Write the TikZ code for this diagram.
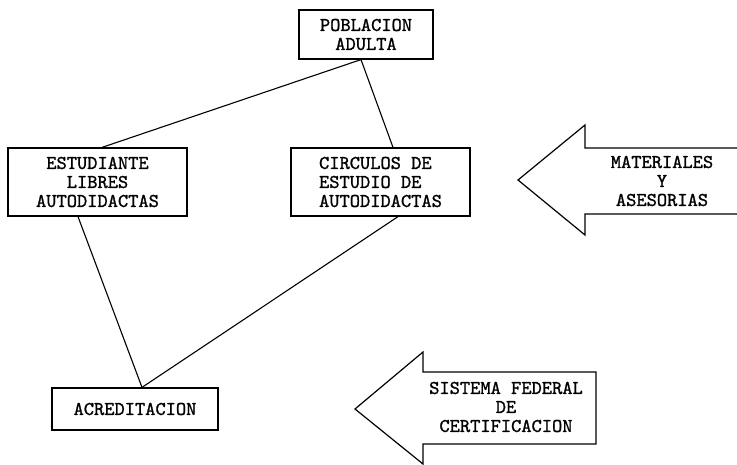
\documentclass[tikz,border=0pt]{standalone}
\usepackage{fontspec}
\setmonofont{lmmono10-regular}[Extension=.otf, AutoFakeBold=1.2]
\usetikzlibrary{positioning,calc}

\begin{document}
\begin{tikzpicture}[x=1pt,y=-1pt,
    texto/.style={align=center, inner sep=0pt, font=\ttfamily\bfseries\fontsize{19.5}{19}\selectfont},
    caja/.style={texto, draw, line width=1.2pt},
    linea/.style={line width=1.1pt},
    flecha/.style={line width=1.2pt, line join=miter}]
    \useasboundingbox (0,0) rectangle (737,465);

    % Cajas
    \node[caja, minimum width=134pt, minimum height=49pt] (pob) at (366,34.5) {POBLACION\\ADULTA};
    \node[caja, minimum width=179pt, minimum height=68pt] (est) at (97.5,182) {ESTUDIANTE\\LIBRES\\AUTODIDACTAS};
    \node[caja, align=left, minimum width=179pt, minimum height=68pt] (cir) at (380.5,182) {CIRCULOS DE\\ESTUDIO DE\\AUTODIDACTAS};
    \node[caja, minimum width=166pt, minimum height=42pt] (acr) at (135,409) {ACREDITACION};

    % Lineas
    \draw[linea] ([xshift=-5pt]pob.south) -- ([xshift=4.5pt]est.north);
    \draw[linea] ([xshift=-5pt]pob.south) -- ([xshift=12.5pt]cir.north);
    \draw[linea] ([xshift=-19.5pt]est.south) -- ([xshift=7pt]acr.north);
    \draw[linea] ([xshift=17.5pt]cir.south) -- ([xshift=7pt]acr.north);

    % Flechas
    \draw[flecha] (745,148) -- (585,148) -- (585,125) -- (518,180) -- (585,235) -- (585,214) -- (745,214);
    \node[texto] (mat) at (662,181) {MATERIALES\\Y\\ASESORIAS};
    \draw[flecha] (423,372) -- (423,352) -- (355,409) -- (423,464) -- (423,444) -- (596,444) -- (596,372) -- cycle;
    \node[texto] (sis) at (506,407) {SISTEMA FEDERAL\\DE\\CERTIFICACION};
\end{tikzpicture}
\end{document}
